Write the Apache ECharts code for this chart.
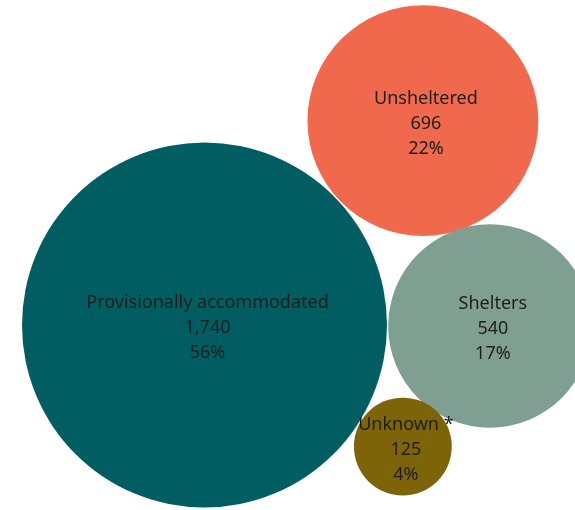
<!DOCTYPE html>
<html>
<head>
<meta charset="utf-8">
<script src="https://cdn.jsdelivr.net/npm/echarts@6/dist/echarts.min.js"></script>
<style>
  html, body { margin: 0; padding: 0; background: #ffffff; }
  #chart { width: 575px; height: 510px; }
</style>
</head>
<body>
<div id="chart"></div>
<script>
// ---- data ----
const categories = ['Provisionally accommodated', 'Unsheltered', 'Shelters', 'Unknown *'];
const counts = [1740, 696, 540, 125];

// ---- layout & style (not data) ----
const colors = ['#005E63', '#F0694D', '#7F9F92', '#7D6408'];
const anchor = [204.5, 325];       // centre of the largest bubble, px
const maxRadius = 182.5;            // radius of the largest bubble, px
const angles = [null, -43.1, 0.2, 31.5]; // direction from largest bubble, degrees
const gap = 1.2;

const total = counts.reduce((a, b) => a + b, 0);
const k = maxRadius / Math.sqrt(Math.max(...counts));
const radii = counts.map(v => k * Math.sqrt(v));

const points = counts.map((v, i) => {
  let x = anchor[0], y = anchor[1];
  if (i > 0) {
    const d = radii[0] + radii[i] + gap;
    const a = angles[i] * Math.PI / 180;
    x += d * Math.cos(a);
    y += d * Math.sin(a);
  }
  return {
    name: categories[i],
    value: [x, y, v],
    symbolSize: radii[i] * 2,
    itemStyle: { color: colors[i], opacity: 1 }
  };
});

const chart = echarts.init(document.getElementById('chart'), null, { renderer: 'canvas' });
chart.setOption({
  animation: false,
  backgroundColor: '#ffffff',
  grid: { left: 0, right: 0, top: 0, bottom: 0 },
  xAxis: { type: 'value', min: 0, max: 575, show: false },
  yAxis: { type: 'value', min: 0, max: 510, inverse: true, show: false },
  series: [{
    type: 'scatter',
    clip: false,
    data: points,
    itemStyle: { opacity: 1 },
    label: {
      show: true,
      position: 'inside',
      offset: [3, 3],
      color: '#1e1e1e',
      fontFamily: 'Noto Sans',
      fontSize: 18,
      lineHeight: 25,
      align: 'center',
      formatter: p => {
        const v = p.value[2];
        return p.name + '\n' + v.toLocaleString('en-US') + '\n' + Math.round(v / total * 100) + '%';
      }
    },
    emphasis: { disabled: true }
  }]
});
</script>
</body>
</html>
